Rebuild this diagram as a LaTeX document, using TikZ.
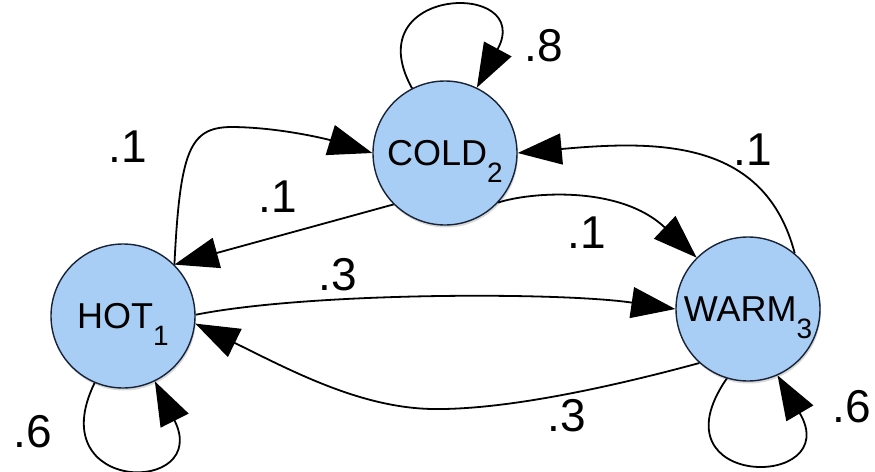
\documentclass[tikz,border=0pt]{standalone}
\usepackage{fontspec}
\setmainfont{Liberation Sans}
\usetikzlibrary{arrows.meta,shadows}
\definecolor{statefill}{RGB}{168,206,245}
\definecolor{stateline}{RGB}{25,35,55}
\newcommand\nodesub[1]{\raisebox{-17pt}{\fontsize{28pt}{28pt}\selectfont #1}}
\begin{document}
\begin{tikzpicture}[x=1pt,y=-1pt,
  state/.style={circle, draw=stateline, line width=1.4pt, fill=statefill,
    minimum size=144pt, inner sep=0pt, font=\fontsize{36pt}{36pt}\selectfont,
    text depth=0pt,
    drop shadow={shadow xshift=1pt, shadow yshift=-2.5pt, opacity=0.3}},
  edge/.style={line width=1.8pt, -{Triangle[length=44pt,width=31pt]}},
  lbl/.style={font=\fontsize{46pt}{46pt}\selectfont, inner sep=0pt}]
\useasboundingbox (0,0) rectangle (875,471);
\node[state] (HOT) at (123,316) {HOT\nodesub{1}};
\node[state] (COLD) at (445,153) {COLD\nodesub{2}};
\node[state] (WARM) at (748,309) {WARM\nodesub{3}};
% edges
\draw[edge] (HOT.45) .. controls (180,150) and (190,128) .. (230,127)
  .. controls (280,127) and (330,140) .. (COLD.180);
\draw[edge] (COLD.225) -- (HOT.45);
\draw[edge] (COLD.-43) .. controls (530,192) and (620,185) .. (WARM.135);
\draw[edge] (WARM.50) .. controls (765,140) and (660,140) .. (COLD.0);
\draw[edge] (HOT.1) .. controls (310,292) and (560,292) .. (WARM.180);
\draw[edge] (WARM.228) .. controls (600,390) and (500,410) .. (433,409)
  .. controls (360,408) and (290,370) .. (HOT.-6);
% self loops
\draw[edge] (COLD.117) .. controls (355,-15) and (535,-20) .. (COLD.64);
\draw[edge] (HOT.-113) .. controls (40,495) and (212,495) .. (HOT.-64);
\draw[edge] (WARM.253) .. controls (650,490) and (845,490) .. (WARM.-66);
% labels
\node[lbl] (l1) at (128,147) {.1};
\node[lbl] (l2) at (278,197) {.1};
\node[lbl] (l3) at (338,275) {.3};
\node[lbl] (l4) at (567,416) {.3};
\node[lbl] (l5) at (753,150) {.1};
\node[lbl] (l6) at (587,233) {.1};
\node[lbl] (l7) at (544,46) {.8};
\node[lbl] (l8) at (852,407) {.6};
\node[lbl] (l9) at (33,432) {.6};
\end{tikzpicture}
\end{document}
